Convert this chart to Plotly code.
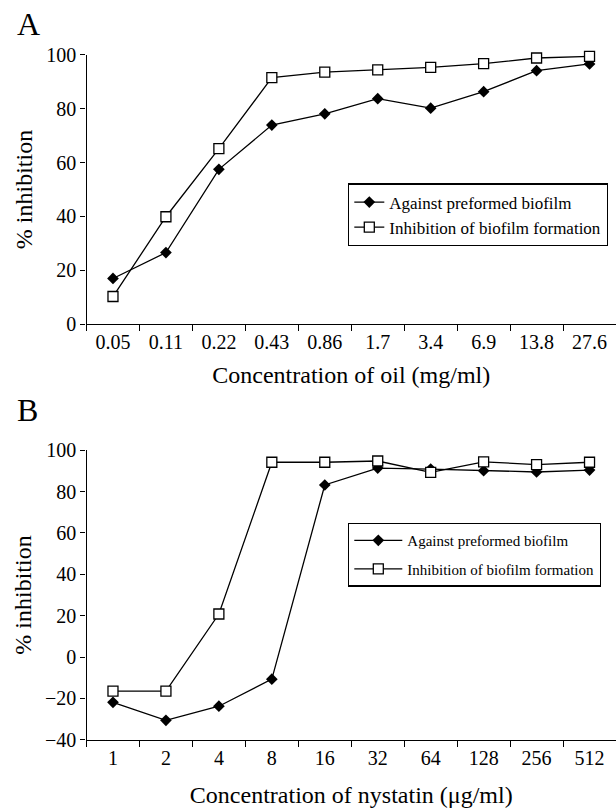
import plotly.graph_objects as go

oil_conc = ["0.05", "0.11", "0.22", "0.43", "0.86", "1.7", "3.4", "6.9", "13.8", "27.6"]
oil_preformed = [17.0, 26.6, 57.5, 73.9, 78.1, 83.7, 80.2, 86.3, 94.1, 96.6]
oil_formation = [10.3, 39.9, 65.2, 91.5, 93.6, 94.4, 95.3, 96.7, 98.8, 99.4]

nys_conc = ["1", "2", "4", "8", "16", "32", "64", "128", "256", "512"]
nys_preformed = [-21.9, -30.6, -23.8, -10.7, 83.2, 91.4, 90.9, 90.1, 89.5, 90.4]
nys_formation = [-16.5, -16.5, 20.8, 94.2, 94.2, 94.8, 89.3, 94.4, 93.1, 94.2]

name_pre = "Against preformed biofilm"
name_form = "Inhibition of biofilm formation"

FONT = "Liberation Serif"
W, H = 616, 812

fig = go.Figure()

def add_pair(x, pre, form, xa, ya, leg):
    fig.add_trace(go.Scatter(
        x=x, y=pre, name=name_pre, mode="lines+markers", xaxis=xa, yaxis=ya,
        legend=leg, legendgroup=leg + "a", cliponaxis=False,
        line=dict(color="black", width=1.3),
        marker=dict(symbol="diamond", size=9, color="black", line=dict(width=0)),
    ))
    fig.add_trace(go.Scatter(
        x=x, y=form, name=name_form, mode="lines+markers", xaxis=xa, yaxis=ya,
        legend=leg, legendgroup=leg + "b", cliponaxis=False,
        line=dict(color="black", width=1.3),
        marker=dict(symbol="square", size=10, color="white", line=dict(color="black", width=1.3)),
    ))

add_pair(oil_conc, oil_preformed, oil_formation, "x", "y", "legend")
add_pair(nys_conc, nys_preformed, nys_formation, "x2", "y2", "legend2")

x0 = 86.5 / W
domA = [1 - 322 / H, 1 - 45 / H]
domB = [1 - 749 / H, 1 - 451.5 / H]

common_x = dict(
    type="category", range=[-0.5, 9.5], domain=[x0, 1.0],
    showline=True, linecolor="black", linewidth=1.3, showgrid=False, zeroline=False,
    ticks="outside", tickson="boundaries", ticklen=6, tickcolor="black", tickwidth=1.3,
    tickfont=dict(family=FONT, size=20, color="black"),
    title_font=dict(family=FONT, size=24, color="black"),
)
common_y = dict(
    showline=True, linecolor="black", linewidth=1.3, showgrid=False, zeroline=False,
    ticks="outside", ticklen=5, tickcolor="black", tickwidth=1.3,
    tickfont=dict(family=FONT, size=20, color="black"),
    title=dict(text="% inhibition", font=dict(family=FONT, size=24, color="black"), standoff=6),
)

fig.update_layout(
    width=W, height=H, margin=dict(l=0, r=0, t=0, b=0),
    paper_bgcolor="white", plot_bgcolor="white",
    font=dict(family=FONT, color="black"),
    xaxis=dict(common_x, anchor="y", title_text="Concentration of oil (mg/ml)", title_standoff=13),
    yaxis=dict(common_y, anchor="x", domain=domA, range=[0, 100], dtick=20),
    xaxis2=dict(common_x, anchor="y2", title_text="Concentration of nystatin (μg/ml)", title_standoff=18),
    yaxis2=dict(common_y, anchor="x2", domain=domB, range=[-40, 100], dtick=20),
    legend=dict(
        x=348 / W, y=1 - 177 / H, xanchor="left", yanchor="top",
        bordercolor="black", borderwidth=1.3, bgcolor="white",
        font=dict(family=FONT, size=17, color="black"),
        traceorder="grouped", tracegroupgap=0,
    ),
    legend2=dict(
        x=348 / W, y=1 - 526 / H, xanchor="left", yanchor="top",
        bordercolor="black", borderwidth=1.3, bgcolor="white",
        font=dict(family=FONT, size=15, color="black"),
        traceorder="grouped", tracegroupgap=6, itemwidth=48,
    ),
    showlegend=True,
    annotations=[
        dict(text="A", x=15 / W, y=1 - 13 / H, xref="paper", yref="paper",
             xanchor="left", yanchor="middle", showarrow=False,
             font=dict(family=FONT, size=32, color="black")),
        dict(text="B", x=15 / W, y=1 - 410 / H, xref="paper", yref="paper",
             xanchor="left", yanchor="middle", showarrow=False,
             font=dict(family=FONT, size=32, color="black")),
    ],
)

fig.write_html("out.html")
